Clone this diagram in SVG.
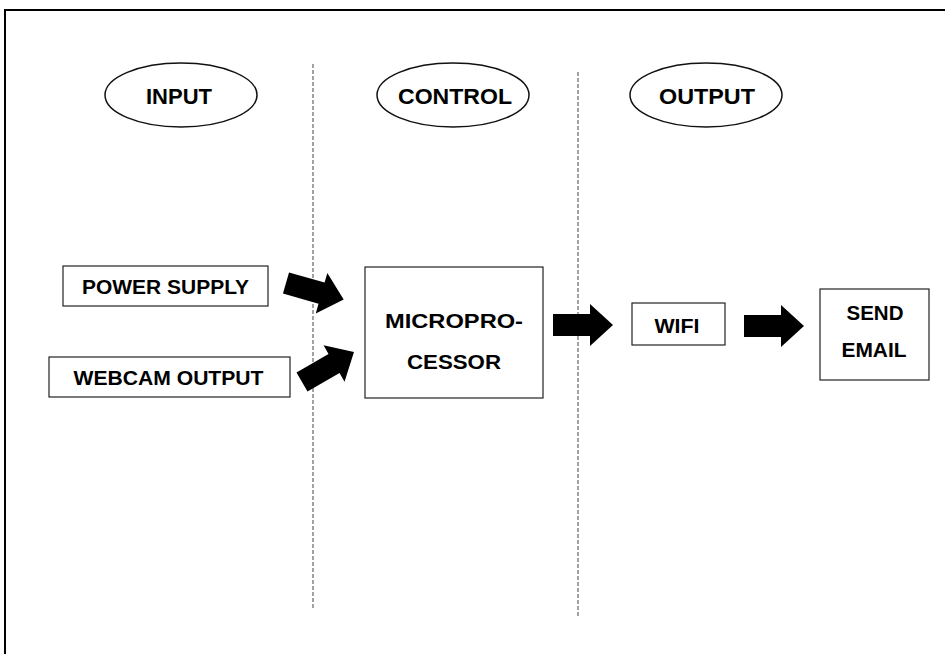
<svg xmlns="http://www.w3.org/2000/svg" width="945" height="654" viewBox="0 0 945 654">
  <style>
    .frame { fill: none; stroke: #000; stroke-width: 2; }
    .lane { stroke: #444; stroke-width: 1; stroke-dasharray: 4 2; }
    .box { fill: #fff; stroke: #222; stroke-width: 1.2; }
    .oval { fill: #fff; stroke: #111; stroke-width: 1.5; }
    .lbl { font-family: "Liberation Sans", Arial, sans-serif; font-weight: bold; font-size: 21px; fill: #000; text-anchor: middle; }
    .head { font-family: "Liberation Sans", Arial, sans-serif; font-weight: bold; font-size: 22px; fill: #000; text-anchor: middle; }
    .arrow { fill: #000; }
  </style>
  <defs>
    <path id="block-arrow" d="M0,-11 H37 V-21 L60,0 L37,21 V11 H0 Z"/>
  </defs>
  <rect width="945" height="654" fill="#fff"/>
  <!-- page frame, open on the right and bottom -->
  <path class="frame" d="M5,654 V10 H945"/>

  <!-- lane separators -->
  <line class="lane" x1="313" y1="64" x2="313" y2="609"/>
  <line class="lane" x1="578" y1="72" x2="578" y2="616"/>

  <!-- lane headings -->
  <g id="input-heading">
    <ellipse class="oval" cx="181" cy="95" rx="76" ry="32"/>
    <text class="head" x="179" y="104" textLength="66" lengthAdjust="spacingAndGlyphs">INPUT</text>
  </g>
  <g id="control-heading">
    <ellipse class="oval" cx="453" cy="95" rx="76" ry="32"/>
    <text class="head" x="455" y="104" textLength="114" lengthAdjust="spacingAndGlyphs">CONTROL</text>
  </g>
  <g id="output-heading">
    <ellipse class="oval" cx="706" cy="95" rx="76" ry="32"/>
    <text class="head" x="707" y="104" textLength="96" lengthAdjust="spacingAndGlyphs">OUTPUT</text>
  </g>

  <!-- blocks -->
  <g id="power-supply">
    <rect class="box" x="63" y="266" width="205" height="40"/>
    <text class="lbl" x="165.5" y="294" textLength="167" lengthAdjust="spacingAndGlyphs">POWER SUPPLY</text>
  </g>
  <g id="webcam-output">
    <rect class="box" x="49" y="357" width="241" height="40"/>
    <text class="lbl" x="168.5" y="385" textLength="190" lengthAdjust="spacingAndGlyphs">WEBCAM OUTPUT</text>
  </g>
  <g id="microprocessor">
    <rect class="box" x="365" y="267" width="178" height="131"/>
    <text class="lbl" x="454" y="328" textLength="138" lengthAdjust="spacingAndGlyphs">MICROPRO-</text>
    <text class="lbl" x="454" y="369" textLength="94" lengthAdjust="spacingAndGlyphs">CESSOR</text>
  </g>
  <g id="wifi">
    <rect class="box" x="632" y="303" width="93" height="42"/>
    <text class="lbl" x="677" y="333" textLength="45" lengthAdjust="spacingAndGlyphs">WIFI</text>
  </g>
  <g id="send-email">
    <rect class="box" x="820" y="289" width="109" height="91"/>
    <text class="lbl" x="875" y="320" textLength="57" lengthAdjust="spacingAndGlyphs">SEND</text>
    <text class="lbl" x="874" y="357" textLength="65" lengthAdjust="spacingAndGlyphs">EMAIL</text>
  </g>

  <!-- connectors -->
  <g id="connectors" class="arrow">
    <use href="#block-arrow" transform="translate(286,283) rotate(16)"/>
    <use href="#block-arrow" transform="translate(302,382) rotate(-30)"/>
    <use href="#block-arrow" transform="translate(553,325)"/>
    <use href="#block-arrow" transform="translate(744,326)"/>
  </g>
</svg>
